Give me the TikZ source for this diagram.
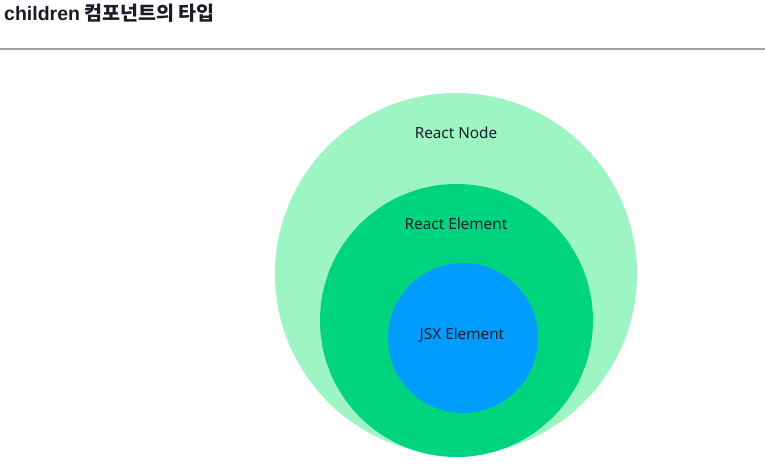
\documentclass[tikz,border=0pt]{standalone}
\usepackage{fontspec}
\setmainfont{Noto Sans CJK KR}
\newfontfamily\labelfont{Noto Sans}
\newfontfamily\titlelatin{Liberation Sans}
\definecolor{nodegreen}{HTML}{9EF5C4}
\definecolor{elemgreen}{HTML}{00D47E}
\definecolor{jsxblue}{HTML}{009DFF}
\definecolor{inkdark}{HTML}{1A1C2A}
\definecolor{rulegray}{HTML}{A4A4A8}
\begin{document}
\begin{tikzpicture}[x=1pt,y=-1pt,
  ring/.style={circle,draw=none,inner sep=0pt,minimum size=#1},
  lbl/.style={font=\labelfont\fontsize{15.3}{17}\selectfont,text=inkdark,inner sep=0pt}]
\useasboundingbox (0,0) rectangle (765,474);
\fill[white] (0,0) rectangle (765,474);
\node[anchor=west,inner sep=0pt,text=inkdark,font=\bfseries\fontsize{19.5}{22}\selectfont] (title) at (4,13) {{\titlelatin\bfseries children} 컴포넌트의 타입};
\coordinate (ruleL) at (0,49);
\coordinate (ruleR) at (765,49);
\draw[rulegray,line width=2pt] (ruleL) -- (ruleR);
\node[ring=362pt,fill=nodegreen] (rnode) at (456,274) {};
\node[ring=273pt,fill=elemgreen] (relem) at (456.5,320.5) {};
\node[ring=150pt,fill=jsxblue] (jsx) at (463,338) {};
\node[lbl] (lnode) at (456,133) {React Node};
\node[lbl] (lelem) at (456,224) {React Element};
\node[lbl] (ljsx) at (462,335) {JSX Element};
\end{tikzpicture}
\end{document}
